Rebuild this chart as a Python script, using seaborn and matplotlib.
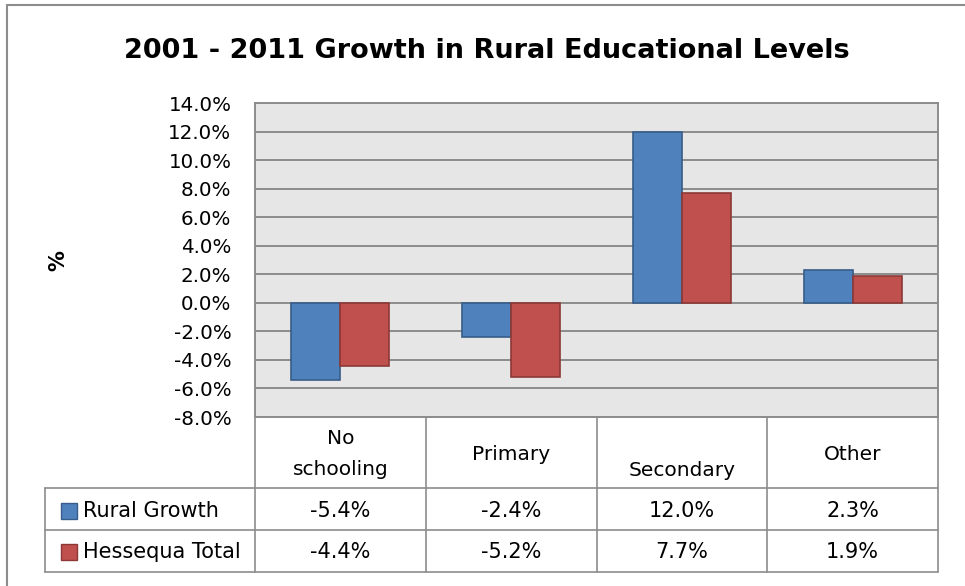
import matplotlib
matplotlib.use("Agg")
import matplotlib.pyplot as plt
import matplotlib.transforms as mtransforms
from matplotlib.patches import Rectangle
from matplotlib.lines import Line2D
import pandas as pd
import seaborn as sns

# Data
categories = ["No\nschooling", "Primary", "Secondary", "Other"]
series_names = ["Rural Growth", "Hessequa Total"]
rural_growth = [-5.4, -2.4, 12.0, 2.3]
hessequa_total = [-4.4, -5.2, 7.7, 1.9]
y_ticks = [-8, -6, -4, -2, 0, 2, 4, 6, 8, 10, 12, 14]

fills = ["#4F81BD", "#C0504D"]
edges = ["#385D8A", "#8C3836"]
grid_col = "#8C8C8C"

df = pd.DataFrame({
    "category": categories * 2,
    "series": [series_names[0]] * 4 + [series_names[1]] * 4,
    "value": rural_growth + hessequa_total,
})

sns.set_theme(style="white")
plt.rcParams["font.family"] = ["DejaVu Sans"]
plt.rcParams["text.color"] = "black"
plt.rcParams["ytick.color"] = "black"

W, H = 965, 586
fig = plt.figure(figsize=(W / 100, H / 100), dpi=100)

def fx(px):
    return px / W

def fy(py):
    return 1 - py / H

ax_l, ax_r, ax_t, ax_b = 255, 938, 103, 417
ax = fig.add_axes([fx(ax_l), fy(ax_b), fx(ax_r - ax_l), (ax_b - ax_t) / H])
ax.set_facecolor("#E6E6E6")

sns.barplot(data=df, x="category", y="value", hue="series", order=categories,
            hue_order=series_names, palette=fills, width=0.575, ax=ax,
            legend=False, saturation=1)
for cont, ec in zip(ax.containers, edges):
    for bar in cont:
        bar.set_edgecolor(ec)
        bar.set_linewidth(1.2)
        bar.set_zorder(3)

ax.set_ylim(-8, 14)
ax.set_xlim(-0.5, 3.5)
ax.set_yticks(y_ticks)
ax.set_yticklabels([f"{t:.1f}%" for t in y_ticks], fontsize=14.3, color="black")
ax.tick_params(axis="y", length=0, pad=17)
ax.set_xticks([])
ax.set_xlabel("")
ax.set_ylabel("")
ax.set_axisbelow(True)
ax.yaxis.grid(True, color=grid_col, linewidth=1.4)
for s in ax.spines.values():
    s.set_color(grid_col)
    s.set_linewidth(1.4)

# Title and axis label
fig.text(fx(487), fy(51), "2001 - 2011 Growth in Rural Educational Levels",
         ha="center", va="center", fontsize=19.5, fontweight="bold", color="black")
fig.text(fx(58), fy(261), "%", rotation=90, ha="center", va="center",
         fontsize=15, fontweight="bold", color="black")

# Chart frame
fig.add_artist(Line2D([fx(7), fx(7)], [fy(5), fy(H + 5)], color=grid_col, lw=1.5))
fig.add_artist(Line2D([fx(7), fx(W + 5)], [fy(5), fy(5)], color=grid_col, lw=1.5))

# Data table under the plot
bt = mtransforms.blended_transform_factory(ax.transData, fig.transFigure)
row_lines = [488, 530, 572]
table_left = 45
for b in [-0.5, 0.5, 1.5, 2.5, 3.5]:
    fig.add_artist(Line2D([b, b], [fy(ax_b), fy(572)], transform=bt,
                          color=grid_col, lw=1.2))
for r in row_lines:
    fig.add_artist(Line2D([fx(table_left), fx(ax_r)], [fy(r), fy(r)],
                          color=grid_col, lw=1.2))
fig.add_artist(Line2D([fx(table_left), fx(table_left)], [fy(488), fy(572)],
                      color=grid_col, lw=1.2))

header_y = {0: 454, 1: 455, 2: 470, 3: 455}
for i, cat in enumerate(categories):
    fig.text(i, fy(header_y[i]), cat, transform=bt, ha="center", va="center",
             fontsize=14.5, linespacing=1.8, color="black")

row_y = [511, 552]
for vals, name, fc, ec, ry in zip([rural_growth, hessequa_total], series_names,
                                  fills, edges, row_y):
    fig.add_artist(Rectangle((fx(61), fy(ry + 8)), fx(16), 16 / H,
                             facecolor=fc, edgecolor=ec, lw=1.0))
    fig.text(fx(83), fy(ry), name, ha="left", va="center", fontsize=15,
             color="black")
    for i, v in enumerate(vals):
        fig.text(i, fy(ry), f"{v:.1f}%", transform=bt, ha="center",
                 va="center", fontsize=15, color="black")

fig.savefig("out.png", dpi=100)
